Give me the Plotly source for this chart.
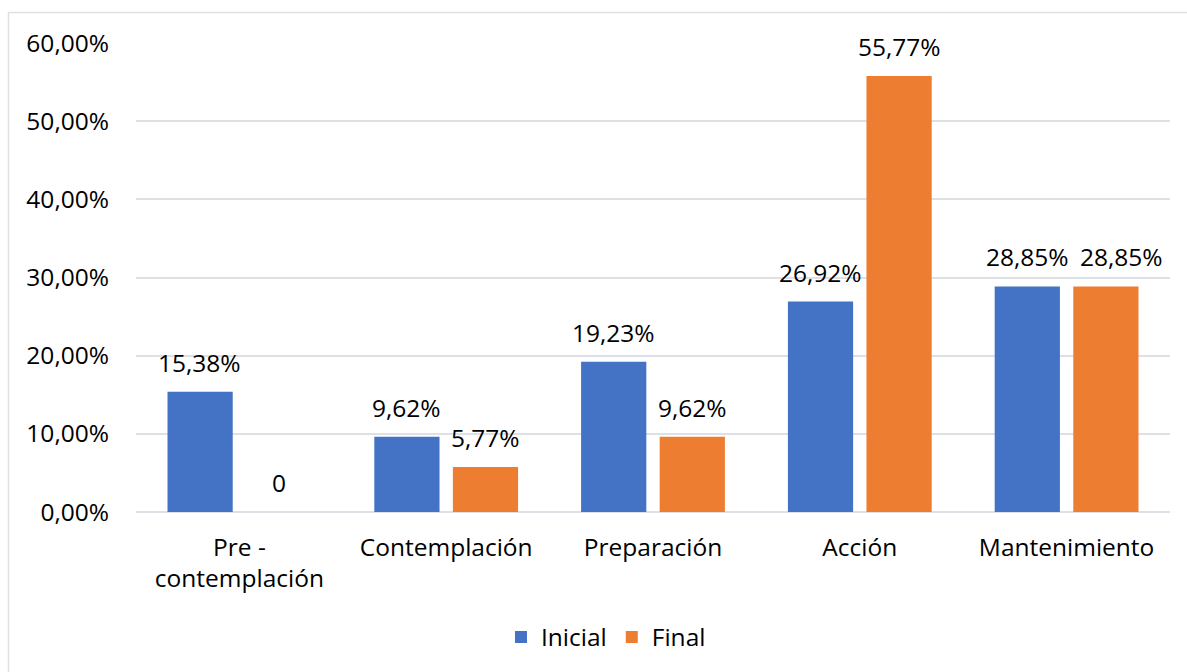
import plotly.graph_objects as go

categories = ["Pre -<br>contemplación", "Contemplación", "Preparación", "Acción", "Mantenimiento"]
inicial = [0.1538, 0.0962, 0.1923, 0.2692, 0.2885]
final = [0.0, 0.0577, 0.0962, 0.5577, 0.2885]
inicial_labels = ["15,38%", "9,62%", "19,23%", "26,92%", "28,85%"]
final_labels = ["0", "5,77%", "9,62%", "55,77%", "28,85%"]
y_ticks = [0, 0.1, 0.2, 0.3, 0.4, 0.5, 0.6]

# label nudges (pixels), styling only
final_label_nudge = [0, 0, 0, 0, 15]

FONT = "Open Sans"
FS = 24.5
BLUE = "#4472c4"
ORANGE = "#ed7d31"
GRID = "#dde1e6"

fig = go.Figure()
fig.add_trace(go.Bar(name="Inicial", x=categories, y=inicial, marker_color=BLUE,
                     marker_line_width=0))
fig.add_trace(go.Bar(name="Final", x=categories, y=final, marker_color=ORANGE,
                     marker_line_width=0))

annotations = []
for series, labels, shift, nudges in ((inicial, inicial_labels, -39.5, [0] * 5),
                                      (final, final_labels, 39.5, final_label_nudge)):
    for c, v, t, n in zip(categories, series, labels, nudges):
        annotations.append(dict(x=c, y=v, text=t, xref="x", yref="y", showarrow=False,
                                xshift=shift + n, yshift=11, yanchor="bottom", xanchor="center",
                                font=dict(family=FONT, size=FS, color="#000000")))

W, H = 1187, 672
L, R, T, B = 136, 1170, 43, 512
pw, ph = R - L, B - T

fig.update_layout(
    width=W, height=H,
    margin=dict(l=L, r=W - R, t=T, b=H - B, pad=0),
    paper_bgcolor="white", plot_bgcolor="white",
    separators=",.",
    barmode="group", bargap=0.24, bargroupgap=0.17,
    font=dict(family=FONT, size=FS, color="#000000"),
    showlegend=True,
    legend=dict(orientation="h", x=(606 - L) / pw, xanchor="center", y=(B - 637) / ph,
                yanchor="middle", font=dict(family=FONT, size=FS, color="#000000"),
                itemsizing="constant", traceorder="normal", itemwidth=30),
    annotations=annotations,
    shapes=[dict(type="rect", xref="paper", yref="paper",
                 x0=(8.5 - L) / pw, x1=(W + 20 - L) / pw,
                 y0=(B - (H + 20)) / ph, y1=(B - 12.5) / ph,
                 line=dict(color=GRID, width=1.5), fillcolor="rgba(0,0,0,0)", layer="below")],
)
fig.update_xaxes(showgrid=False, showline=False, ticks="", ticklabelstandoff=18,
                 tickfont=dict(family=FONT, size=FS, color="#000000"))
fig.update_yaxes(range=[0, 0.6], tickvals=y_ticks, tickformat=".2%", showgrid=True,
                 gridcolor=GRID, gridwidth=1.5, zeroline=True, zerolinecolor=GRID,
                 zerolinewidth=1.5, showline=False, ticks="", ticklabelstandoff=26,
                 tickfont=dict(family=FONT, size=FS, color="#000000"))

fig.write_html("out.html")
